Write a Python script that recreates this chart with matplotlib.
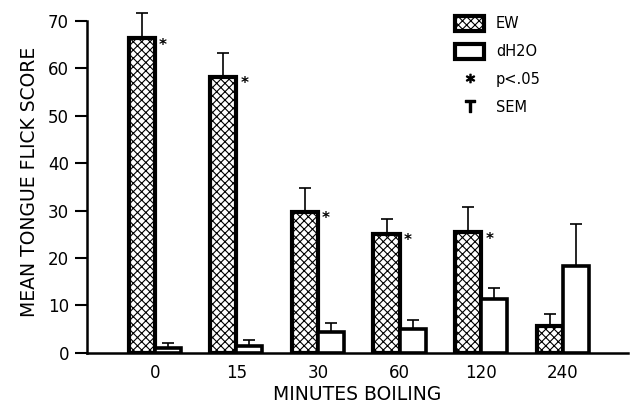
import numpy as np
import matplotlib
matplotlib.use("Agg")
import matplotlib.pyplot as plt
from matplotlib.patches import Patch
from matplotlib.lines import Line2D

# data
minutes = ["0", "15", "30", "60", "120", "240"]
ew_mean = [66.4, 58.2, 29.8, 25.1, 25.5, 5.7]
ew_sem = [5.3, 5.1, 5.0, 3.2, 5.3, 2.5]
dh2o_mean = [1.0, 1.5, 4.5, 5.1, 11.4, 18.4]
dh2o_sem = [1.1, 1.2, 1.8, 1.9, 2.3, 8.8]
significant = [True, True, True, True, True, False]

plt.rcParams['font.family'] = ['DejaVu Sans']
plt.rcParams['hatch.linewidth'] = 0.8

fig = plt.figure(figsize=(6.3, 4.08), dpi=100)
ax = fig.add_axes([0.138, 0.135, 0.859, 0.837])

x = np.arange(len(minutes))
w = 0.32

ax.bar(x - w / 2, ew_mean, w, facecolor='white', edgecolor='black',
       hatch='xxxx', linewidth=3.0, zorder=2)
ax.bar(x + w / 2, dh2o_mean, w, facecolor='white', edgecolor='black',
       linewidth=2.6, zorder=2)

# upper-only error bars
ax.errorbar(x - w / 2, ew_mean, yerr=[np.zeros(6), ew_sem], fmt='none',
            ecolor='black', elinewidth=1.2, capsize=4, capthick=1.2, zorder=1)
ax.errorbar(x + w / 2, dh2o_mean, yerr=[np.zeros(6), dh2o_sem], fmt='none',
            ecolor='black', elinewidth=1.2, capsize=4, capthick=1.2, zorder=1)

for xi, m, s in zip(x, ew_mean, significant):
    if s:
        ax.text(xi + 0.1, m - 1.5, '*', fontsize=11, fontweight='bold',
                ha='center', va='center')

ax.set_xlim(-0.83, 5.8)
ax.set_ylim(0, 72)
ax.set_yticks(range(0, 80, 10))
ax.set_xticks(x)
ax.set_xticklabels(minutes)
ax.tick_params(axis='x', length=0, pad=8, labelsize=12)
ax.tick_params(axis='y', length=9, width=1.5, pad=4, labelsize=12)

for side in ['top', 'right']:
    ax.spines[side].set_visible(False)
ax.spines['left'].set_linewidth(1.8)
ax.spines['bottom'].set_linewidth(1.8)
ax.spines['left'].set_bounds(0, 70)

ax.set_xlabel('MINUTES BOILING', fontsize=13.5, labelpad=2)
ax.set_ylabel('MEAN TONGUE FLICK SCORE', fontsize=13.5, labelpad=6)

handles = [
    Patch(facecolor='white', edgecolor='black', hatch='xxxx', linewidth=3),
    Patch(facecolor='white', edgecolor='black', linewidth=3),
    Line2D([], [], ls='none', marker='$*$', color='black', markersize=6),
    Line2D([], [], ls='none', marker=r'$\mathsf{T}$', color='black', markersize=8),
]
labels = ['EW', 'dH2O', 'p<.05', 'SEM']
fig.legend(handles, labels, loc='upper left', bbox_to_anchor=(455 / 630, 1 - 16 / 408),
           frameon=False, fontsize=10.5, handlelength=2.0, handleheight=1.2,
           handletextpad=0.8, labelspacing=0.85, borderpad=0, borderaxespad=0)

fig.savefig('out.png', dpi=100)
